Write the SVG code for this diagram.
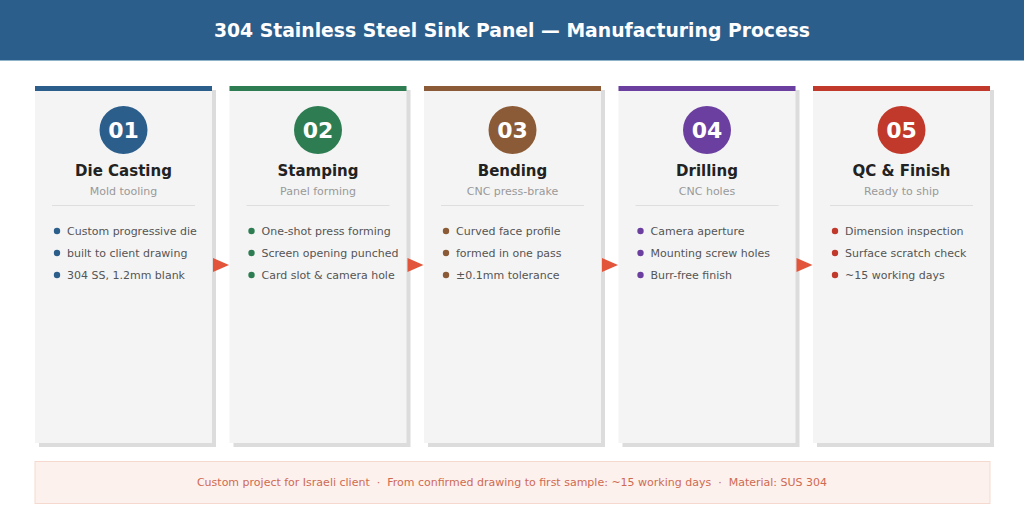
<svg xmlns="http://www.w3.org/2000/svg" width="1024" height="529" viewBox="0 0 1024 529">
<style>
text{font-family:"DejaVu Sans",Verdana,sans-serif}
.card{fill:#f4f4f4}
.shadow{fill:#dcdcdc}
.num{fill:#fff;font-size:22px;font-weight:bold;text-anchor:middle}
.ttl{fill:#222;font-size:15px;font-weight:bold;text-anchor:middle}
.sub{fill:#999;font-size:11px;text-anchor:middle}
.div{stroke:#dedede;stroke-width:1}
.bul{fill:#555;font-size:11px}
.arrow{fill:#e2553a}
</style>
<rect x="0" y="0" width="1024" height="529" fill="#fff"/>
<rect x="0" y="0" width="1024" height="60" fill="#2c5e8c"/>
<rect x="0" y="60" width="1024" height="1" fill="#8fb3c8"/>
<text x="512" y="37" text-anchor="middle" fill="#fff" font-size="18.8" font-weight="bold">304 Stainless Steel Sink Panel — Manufacturing Process</text>

<g id="step1">
<rect class="shadow" x="39" y="90" width="177" height="357"/>
<rect class="card" x="35" y="86" width="177" height="357"/>
<rect x="35" y="86" width="177" height="5" fill="#2c5e8c"/>
<circle cx="123.5" cy="130" r="24" fill="#2c5e8c"/>
<text class="num" x="123.5" y="138">01</text>
<text class="ttl" x="123.5" y="176">Die Casting</text>
<text class="sub" x="123.5" y="195">Mold tooling</text>
<line class="div" x1="52" y1="205.5" x2="195" y2="205.5"/>
<g fill="#2c5e8c"><circle cx="57" cy="231" r="3.2"/><circle cx="57" cy="253" r="3.2"/><circle cx="57" cy="275" r="3.2"/></g>
<text class="bul" x="67" y="235">Custom progressive die</text>
<text class="bul" x="67" y="257">built to client drawing</text>
<text class="bul" x="67" y="279">304 SS, 1.2mm blank</text>
</g>

<g id="step2">
<rect class="shadow" x="233.5" y="90" width="177" height="357"/>
<rect class="card" x="229.5" y="86" width="177" height="357"/>
<rect x="229.5" y="86" width="177" height="5" fill="#2e7d52"/>
<circle cx="318" cy="130" r="24" fill="#2e7d52"/>
<text class="num" x="318" y="138">02</text>
<text class="ttl" x="318" y="176">Stamping</text>
<text class="sub" x="318" y="195">Panel forming</text>
<line class="div" x1="246.5" y1="205.5" x2="389.5" y2="205.5"/>
<g fill="#2e7d52"><circle cx="251.5" cy="231" r="3.2"/><circle cx="251.5" cy="253" r="3.2"/><circle cx="251.5" cy="275" r="3.2"/></g>
<text class="bul" x="261.5" y="235">One-shot press forming</text>
<text class="bul" x="261.5" y="257">Screen opening punched</text>
<text class="bul" x="261.5" y="279">Card slot &amp; camera hole</text>
</g>

<g id="step3">
<rect class="shadow" x="428" y="90" width="177" height="357"/>
<rect class="card" x="424" y="86" width="177" height="357"/>
<rect x="424" y="86" width="177" height="5" fill="#8b5a36"/>
<circle cx="512.5" cy="130" r="24" fill="#8b5a36"/>
<text class="num" x="512.5" y="138">03</text>
<text class="ttl" x="512.5" y="176">Bending</text>
<text class="sub" x="512.5" y="195">CNC press-brake</text>
<line class="div" x1="441" y1="205.5" x2="584" y2="205.5"/>
<g fill="#8b5a36"><circle cx="446" cy="231" r="3.2"/><circle cx="446" cy="253" r="3.2"/><circle cx="446" cy="275" r="3.2"/></g>
<text class="bul" x="456" y="235">Curved face profile</text>
<text class="bul" x="456" y="257">formed in one pass</text>
<text class="bul" x="456" y="279">±0.1mm tolerance</text>
</g>

<g id="step4">
<rect class="shadow" x="622.5" y="90" width="177" height="357"/>
<rect class="card" x="618.5" y="86" width="177" height="357"/>
<rect x="618.5" y="86" width="177" height="5" fill="#6b3fa0"/>
<circle cx="707" cy="130" r="24" fill="#6b3fa0"/>
<text class="num" x="707" y="138">04</text>
<text class="ttl" x="707" y="176">Drilling</text>
<text class="sub" x="707" y="195">CNC holes</text>
<line class="div" x1="635.5" y1="205.5" x2="778.5" y2="205.5"/>
<g fill="#6b3fa0"><circle cx="640.5" cy="231" r="3.2"/><circle cx="640.5" cy="253" r="3.2"/><circle cx="640.5" cy="275" r="3.2"/></g>
<text class="bul" x="650.5" y="235">Camera aperture</text>
<text class="bul" x="650.5" y="257">Mounting screw holes</text>
<text class="bul" x="650.5" y="279">Burr-free finish</text>
</g>

<g id="step5">
<rect class="shadow" x="817" y="90" width="177" height="357"/>
<rect class="card" x="813" y="86" width="177" height="357"/>
<rect x="813" y="86" width="177" height="5" fill="#c0392b"/>
<circle cx="901.5" cy="130" r="24" fill="#c0392b"/>
<text class="num" x="901.5" y="138">05</text>
<text class="ttl" x="901.5" y="176">QC &amp; Finish</text>
<text class="sub" x="901.5" y="195">Ready to ship</text>
<line class="div" x1="830" y1="205.5" x2="973" y2="205.5"/>
<g fill="#c0392b"><circle cx="835" cy="231" r="3.2"/><circle cx="835" cy="253" r="3.2"/><circle cx="835" cy="275" r="3.2"/></g>
<text class="bul" x="845" y="235">Dimension inspection</text>
<text class="bul" x="845" y="257">Surface scratch check</text>
<text class="bul" x="845" y="279">~15 working days</text>
</g>

<g id="connectors">
<polygon class="arrow" points="213,258 229,265 213,272"/>
<polygon class="arrow" points="407.5,258 423.5,265 407.5,272"/>
<polygon class="arrow" points="602,258 618,265 602,272"/>
<polygon class="arrow" points="796.5,258 812.5,265 796.5,272"/>
</g>

<g id="footer">
<rect x="35" y="461.5" width="955" height="42" fill="#fdf1ed" stroke="#f6d9ce" stroke-width="1"/>
<text x="512" y="486" text-anchor="middle" fill="#cf6a52" font-size="11" xml:space="preserve">Custom project for Israeli client  ·  From confirmed drawing to first sample: ~15 working days  ·  Material: SUS 304</text>
</g>
</svg>
